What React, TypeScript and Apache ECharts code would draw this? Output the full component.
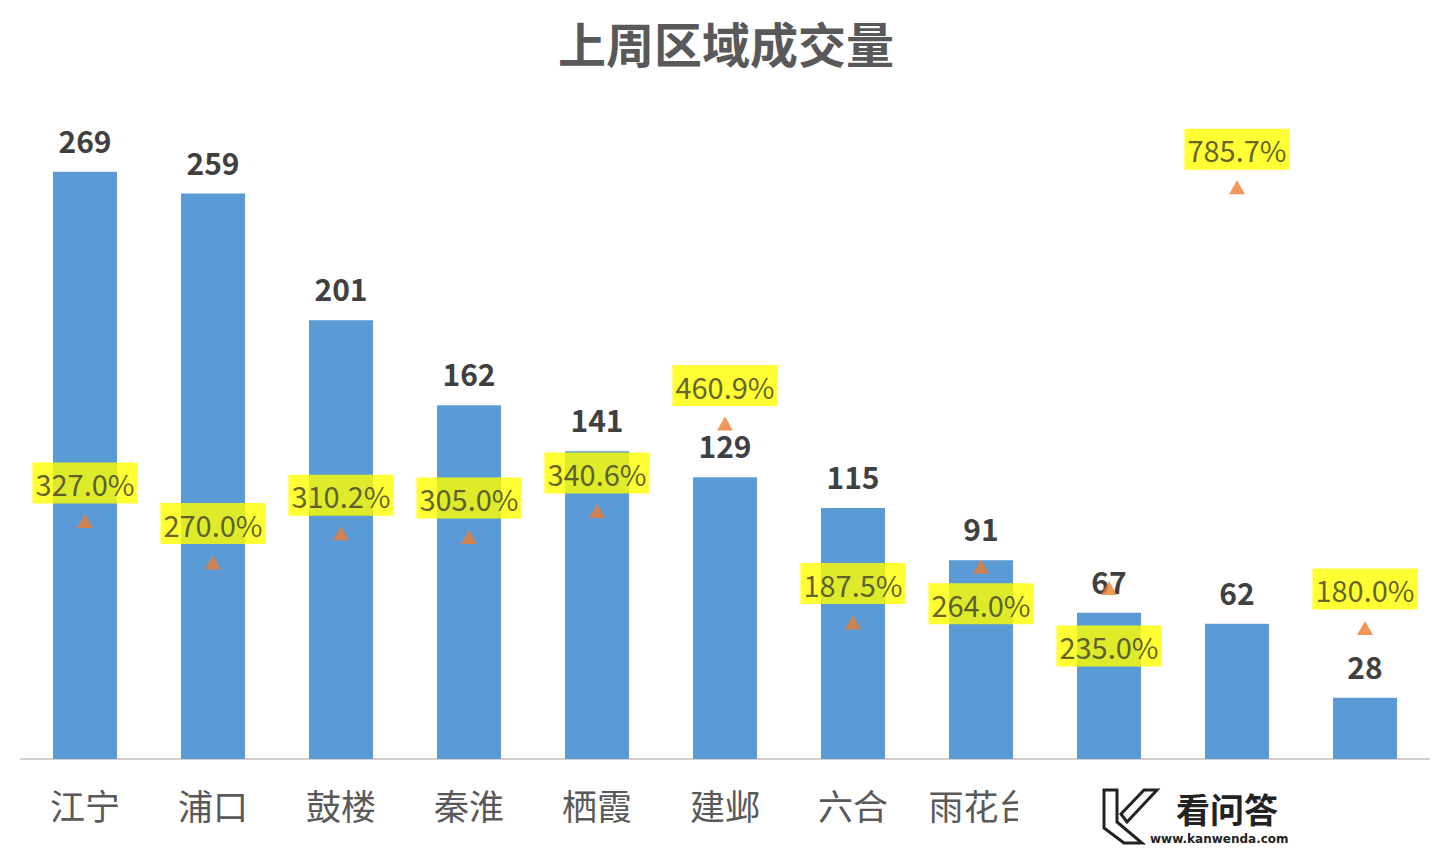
import React, { useEffect, useRef } from "react";
import * as echarts from "echarts";

const categories = ["江宁", "浦口", "鼓楼", "秦淮", "栖霞", "建邺", "六合", "雨花台", "溧水", "高淳", "玄武"];
const volumes = [269, 259, 201, 162, 141, 129, 115, 91, 67, 62, 28];
const growth = [327.0, 270.0, 310.2, 305.0, 340.6, 460.9, 187.5, 264.0, 235.0, 785.7, 180.0];
// label offset (px) of each growth label from its marker
const growthLabelDy = [-38, -39, -38, -39, -38, -38, -39, 37, 58, -38, -39];

const FONT = "'Noto Sans CJK SC', 'Noto Sans', sans-serif";

export default function App() {
  const ref = useRef<HTMLDivElement>(null);
  useEffect(() => {
    if (!ref.current) return;
    const chart = echarts.init(ref.current, undefined, { renderer: "svg" });
    const option: any = {
      animation: false,
      backgroundColor: "#ffffff",
      title: {
        text: "上周区域成交量",
        left: "center",
        top: 13,
        textStyle: { fontFamily: FONT, fontSize: 48, fontWeight: "bold", color: "#595959" },
      },
      grid: { left: 21, right: 23, top: 104, bottom: 91 },
      xAxis: {
        type: "category",
        data: categories,
        axisLine: { lineStyle: { color: "#d0d0d0", width: 2 } },
        axisTick: { show: false },
        axisLabel: {
          margin: 28,
          fontFamily: FONT,
          fontSize: 35,
          color: "#595959",
          interval: 0,
          formatter: (v: string, i: number) => (i >= 8 ? "" : v),
        },
      },
      yAxis: [
        { type: "value", min: 0, max: 300, show: false },
        { type: "value", min: 0, max: 900, show: false },
      ],
      series: [
        {
          type: "bar",
          data: volumes,
          barWidth: 64,
          itemStyle: { color: "#5B9BD5" },
          label: {
            show: true,
            position: "top",
            distance: 17,
            fontFamily: FONT,
            fontSize: 30,
            fontWeight: "bold",
            color: "#404040",
          },
          z: 2,
        },
        {
          type: "scatter",
          yAxisIndex: 1,
          symbol: "triangle",
          symbolSize: [16, 14],
          itemStyle: { color: "#ED7D31" },
          z: 5,
          data: growth.map((v, i) => ({
            value: v,
            label: {
              show: true,
              position: "inside",
              offset: [0, growthLabelDy[i]],
              formatter: v.toFixed(1) + "%",
              fontFamily: FONT,
              fontSize: 29,
              lineHeight: 33,
              color: "#3a3a2a",
              backgroundColor: "#FFFF00",
              padding: [4, 3, 4, 3],
            },
          })),
        },
      ],
      graphic: [
        { type: "rect", shape: { x: 1018, y: 772, width: 434, height: 78 }, style: { fill: "#ffffff" }, z: 100 },
        {
          type: "polygon",
          shape: { points: [[1104, 790], [1117, 790], [1117, 822], [1142, 843], [1124, 843], [1104, 828]] },
          style: { fill: "none", stroke: "#222", lineWidth: 3 },
          z: 101,
        },
        {
          type: "polygon",
          shape: { points: [[1121, 814], [1144, 790], [1157, 790], [1127, 822]] },
          style: { fill: "none", stroke: "#222", lineWidth: 3 },
          z: 101,
        },
        {
          type: "text",
          x: 1176,
          y: 791,
          style: { text: "看问答", fontFamily: FONT, fontSize: 34, fontWeight: "bold", fill: "#222" },
          z: 101,
        },
        {
          type: "text",
          x: 1150,
          y: 833,
          style: { text: "www.kanwenda.com", fontFamily: "'DejaVu Sans', sans-serif", fontSize: 12, fontWeight: "bold", fill: "#222" },
          z: 101,
        },
      ],
    };
    chart.setOption(option);
    return () => chart.dispose();
  }, []);
  return (
    <div
      ref={ref}
      style={{ position: "fixed", left: 0, top: 0, width: 1452, height: 850 }}
    />
  );
}
